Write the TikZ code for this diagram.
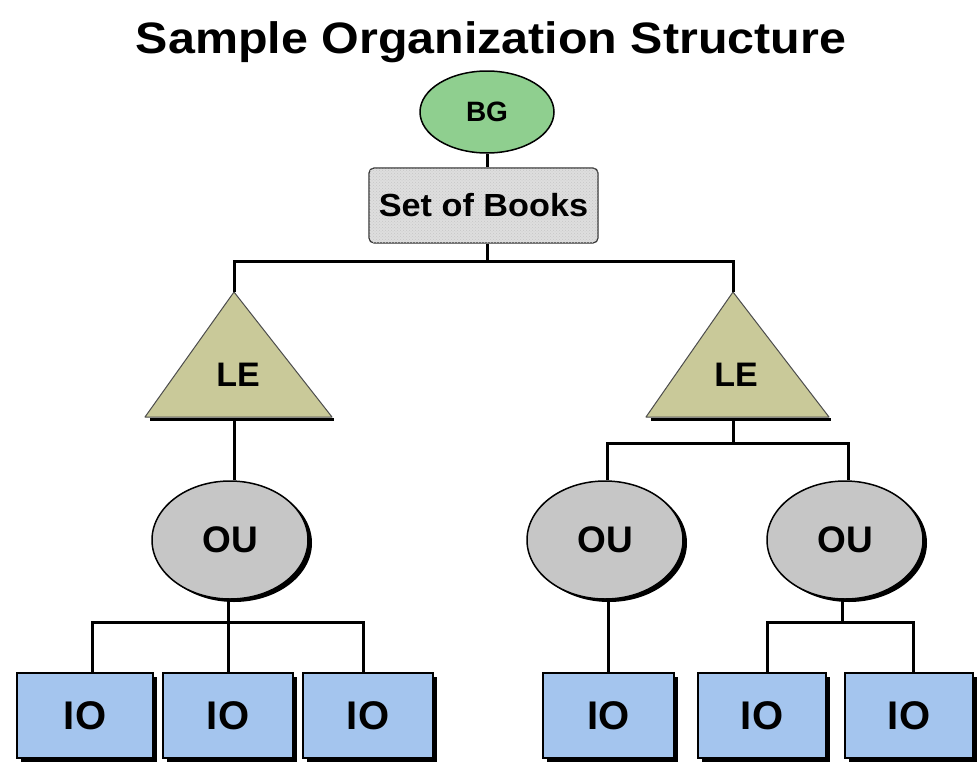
\documentclass[tikz,border=0pt]{standalone}
\usepackage{fontspec}
\setmainfont{Liberation Sans}
\usetikzlibrary{shapes.geometric,patterns}
\definecolor{bggreen}{RGB}{143,207,143}
\definecolor{sobgray}{RGB}{222,222,222}
\definecolor{lekhaki}{RGB}{201,201,153}
\definecolor{ougray}{RGB}{198,198,198}
\definecolor{ioblue}{RGB}{164,197,238}
\tikzset{
  conn/.style={line width=3pt, black},
  fs/.style={font=\bfseries\fontsize{#1}{#1}\selectfont},
  ouell/.style={ellipse, draw=black, line width=1.5pt, fill=ougray, minimum width=156pt, minimum height=118pt, inner sep=0pt, fs=37},
  oushadow/.style={ellipse, fill=black, minimum width=156pt, minimum height=118pt, inner sep=0pt},
  iobox/.style={rectangle, draw=black, line width=1.5pt, fill=ioblue, inner sep=0pt, fs=40},
  ioshadow/.style={rectangle, fill=black, inner sep=0pt},
  letri/.style={fill=lekhaki, draw=black!70, line width=1pt, line join=round},
}
\begin{document}
\begin{tikzpicture}[x=1pt,y=-1pt]
\useasboundingbox (0,0) rectangle (978,763);
\fill[white] (0,0) rectangle (978,763);

% title
\node[fs=44, anchor=base, inner sep=0pt] (title) at (491,53) {\scalebox{1.1}[1]{Sample Organization Structure}};

% BG
\node[ellipse, draw=black, line width=1.5pt, fill=bggreen, minimum width=134pt, minimum height=82pt, inner sep=0pt, fs=28] (bg) at (487,112) {BG};

% Set of Books
\node[rectangle, rounded corners=5pt, draw=black!80, line width=1.2pt, fill=sobgray,
      postaction={pattern=crosshatch dots, pattern color=gray!45},
      minimum width=229pt, minimum height=75pt, inner sep=0pt, fs=32] (sob) at (483.5,205.5) {\scalebox{1.07}[1]{Set of Books}};

% LE triangles
\coordinate (le1top) at (234,292);
\coordinate (le1bot) at (234,418);
\coordinate (le2top) at (733,292);
\coordinate (le2bot) at (733,418);
\draw[line width=3pt] (150,419.5) -- (334,419.5);
\draw[letri] (le1top) -- (145,417) -- (332,417) -- cycle;
\draw[line width=3pt] (651,419.5) -- (831,419.5);
\draw[letri] (le2top) -- (646,417) -- (829,417) -- cycle;
\node[fs=34] (le1) at (238,375) {LE};
\node[fs=34] (le2) at (736,375) {LE};

% OU ellipses
\node[oushadow] at (234,543) {};
\node[ouell] (ou1) at (230,540) {OU};
\node[oushadow] at (609,543) {};
\node[ouell] (ou2) at (605,540) {OU};
\node[oushadow] at (849,543) {};
\node[ouell] (ou3) at (845,540) {OU};

% IO boxes
\foreach \n/\xa/\xb in {io1/17/153, io2/163/293, io3/303/433, io4/543/674, io5/698/826, io6/845/973}{
  \pgfmathsetmacro{\w}{\xb-\xa}
  \pgfmathsetmacro{\c}{(\xa+\xb)/2}
  \node[ioshadow, minimum width=\w pt, minimum height=85pt] at (\c+4,719.5) {};
  \node[iobox, minimum width=\w pt, minimum height=85pt] (\n) at (\c,715.5) {IO};
}

% connectors
\coordinate (bar1) at (487,261);
\coordinate (bar2) at (733,443);
\coordinate (bar3) at (228,622);
\coordinate (bar4) at (842,622);

\draw[conn] (bg.south) -- (sob.north -| bg.south);
\draw[conn] (sob.south -| bg.south) -- (bar1);
\draw[conn] (le1top) -- (le1top |- bar1) -- (le2top |- bar1) -- (le2top);

\draw[conn] (le1bot) -- (ou1.north -| le1bot);

\draw[conn] (le2bot) -- (bar2);
\draw[conn] (ou2.north -| 607,0) -- (607,443) -- (848,443) -- (ou3.north -| 848,0);

\draw[conn] (ou1.south -| bar3) -- (bar3);
\draw[conn] (io1.north -| 92,0) -- (92,622) -- (363,622) -- (io3.north -| 363,0);
\draw[conn] (bar3) -- (io2.north -| bar3);

\draw[conn] (ou2.south -| 608,0) -- (io4.north -| 608,0);

\draw[conn] (ou3.south -| bar4) -- (bar4);
\draw[conn] (io5.north -| 767,0) -- (767,622) -- (913,622) -- (io6.north -| 913,0);
\end{tikzpicture}
\end{document}
